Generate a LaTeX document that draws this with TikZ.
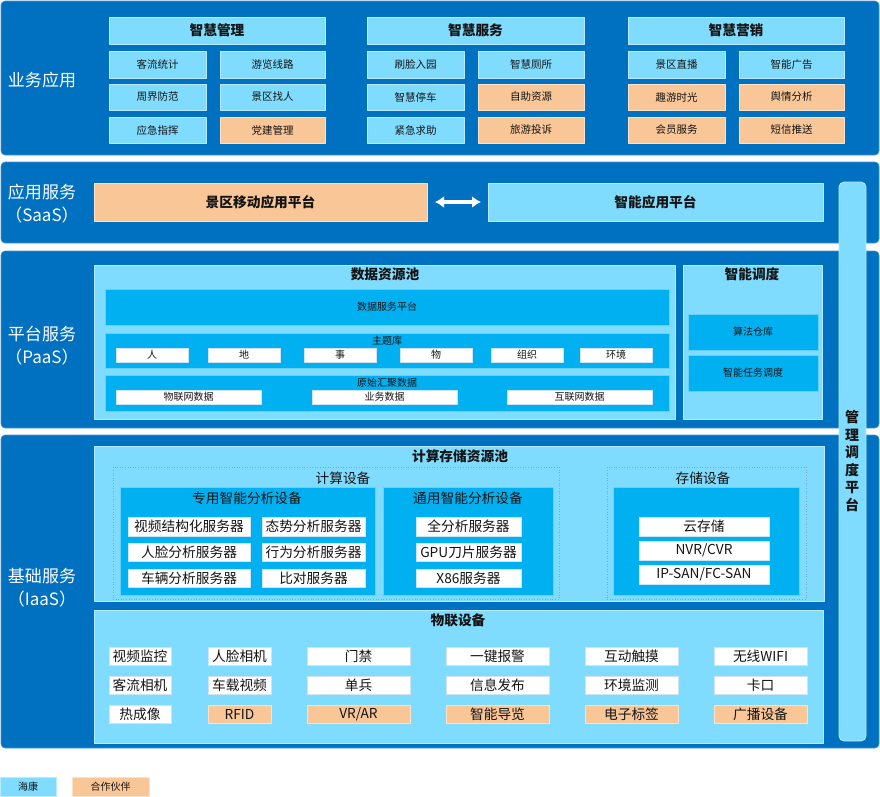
\documentclass[tikz,border=0pt]{standalone}
\usepackage{fontspec}
\setmainfont{Noto Sans CJK SC}
\usetikzlibrary{arrows.meta}
\definecolor{layerblue}{HTML}{0070C0}
\definecolor{layeredge}{HTML}{4A97D4}
\definecolor{paleblue}{HTML}{80DCFE}
\definecolor{paleedge}{HTML}{B8EBFF}
\definecolor{midblue}{HTML}{00B0F0}
\definecolor{midedge}{HTML}{66D0F6}
\definecolor{peach}{HTML}{F8C697}
\definecolor{peachedge}{HTML}{FCE2C8}
\definecolor{whiteedge}{HTML}{D0E4F0}
\definecolor{dotedge}{HTML}{7FA6C4}
\definecolor{ink}{HTML}{141414}
\newcommand{\fs}[1]{\fontsize{#1}{#1}\selectfont}
% tile: name, style, x1, y1, x2, y2, text (pixel coordinates)
\newcommand{\tile}[7]{%
  \node[#2, minimum width={(#5-#3)*1pt}, minimum height={(#6-#4)*1pt}]
    (#1) at ({(#3+#5)/2},{(#4+#6)/2}) {#7};
}

\begin{document}
\begin{tikzpicture}[
  x=1pt,
  y=-1pt,
  line join=round,
  every node/.style={inner sep=0pt, outer sep=0pt, text=ink},
  layer/.style={fill=layerblue, draw=layeredge, line width=0.6pt, rounded corners=4pt},
  pale/.style={fill=paleblue, draw=paleedge, line width=0.8pt},
  peachbox/.style={fill=peach, draw=peachedge, line width=0.8pt},
  midbox/.style={fill=midblue, draw=midedge, line width=0.8pt},
  whitebox/.style={fill=white, draw=whiteedge, line width=0.8pt},
  dotbox/.style={draw=dotedge, dotted, line width=0.6pt},
  lbl/.style={text=white, align=center, font=\fontsize{17}{23}\selectfont},
  hdr/.style={font=\bfseries\fs{13.7}},
  item/.style={font=\fs{10.5}},
  small/.style={font=\fs{10}},
  dev/.style={font=\fs{13.7}}
]
  \useasboundingbox (0,0) rectangle (880,796);
  \fill[white] (0,0) rectangle (880,796);

  % ---- business applications
  \tile{bizL}{layer}{1}{1}{879}{155}{}
  \node[lbl] (bizT) at (42,80) {业务应用};

  \tile{mgmtH}{pale,hdr}{109}{17}{325}{44}{智慧管理}
  \tile{mgmt1}{pale,item}{109}{51}{206}{78}{客流统计}
  \tile{mgmt2}{pale,item}{220}{51}{325}{78}{游览线路}
  \tile{mgmt3}{pale,item}{109}{84}{206}{110}{周界防范}
  \tile{mgmt4}{pale,item}{220}{84}{325}{110}{景区找人}
  \tile{mgmt5}{pale,item}{109}{117}{206}{143}{应急指挥}
  \tile{mgmt6}{peachbox,item}{220}{117}{325}{143}{党建管理}

  \tile{servH}{pale,hdr}{367}{17}{584}{44}{智慧服务}
  \tile{serv1}{pale,item}{367}{51}{464}{78}{刷脸入园}
  \tile{serv2}{pale,item}{478}{51}{584}{78}{智慧厕所}
  \tile{serv3}{pale,item}{367}{84}{464}{110}{智慧停车}
  \tile{serv4}{peachbox,item}{478}{84}{584}{110}{自助资源}
  \tile{serv5}{pale,item}{367}{117}{464}{143}{紧急求助}
  \tile{serv6}{peachbox,item}{478}{117}{584}{143}{旅游投诉}

  \tile{mktH}{pale,hdr}{628}{17}{844}{44}{智慧营销}
  \tile{mkt1}{pale,item}{628}{51}{725}{78}{景区直播}
  \tile{mkt2}{pale,item}{739}{51}{844}{78}{智能广告}
  \tile{mkt3}{peachbox,item}{628}{84}{725}{110}{趣游时光}
  \tile{mkt4}{peachbox,item}{739}{84}{844}{110}{舆情分析}
  \tile{mkt5}{peachbox,item}{628}{117}{725}{143}{会员服务}
  \tile{mkt6}{peachbox,item}{739}{117}{844}{143}{短信推送}

  % ---- SaaS
  \tile{saasL}{layer}{1}{162}{879}{243}{}
  \node[lbl] (saasT) at (42,204) {应用服务\\（SaaS）};
  \tile{mobile}{peachbox,hdr}{94}{183}{427}{221}{景区移动应用平台}
  \tile{smart}{pale,hdr}{488}{183}{823}{221}{智能应用平台}
  \draw[white, line width=3.6pt, {Latex[length=9pt,width=12pt]}-{Latex[length=9pt,width=12pt]},
    shorten <=8pt, shorten >=7pt] (mobile.east) -- (smart.west);

  % ---- PaaS
  \tile{paasL}{layer}{1}{251}{879}{428}{}
  \node[lbl] (paasT) at (42,346) {平台服务\\（PaaS）};

  \tile{pool}{pale}{94}{265}{675}{419}{}
  \node[hdr] (poolT) at (385,274) {数据资源池};
  \tile{dsp}{midbox,small}{105}{289}{669}{325}{数据服务平台}
  \tile{topic}{midbox}{105}{333}{669}{368}{}
  \node[small] (topicT) at (387,341) {主题库};
  \tile{tp1}{whitebox,small}{116}{348}{188}{362}{人}
  \tile{tp2}{whitebox,small}{208}{348}{280}{362}{地}
  \tile{tp3}{whitebox,small}{304}{348}{376}{362}{事}
  \tile{tp4}{whitebox,small}{400}{348}{472}{362}{物}
  \tile{tp5}{whitebox,small}{491}{348}{563}{362}{组织}
  \tile{tp6}{whitebox,small}{580}{348}{652}{362}{环境}
  \tile{raw}{midbox}{105}{375}{669}{411}{}
  \node[small] (rawT) at (387,383) {原始汇聚数据};
  \tile{raw1}{whitebox,small}{116}{390}{261}{404}{物联网数据}
  \tile{raw2}{whitebox,small}{312}{390}{457}{404}{业务数据}
  \tile{raw3}{whitebox,small}{507}{390}{652}{404}{互联网数据}

  \tile{sched}{pale}{683}{265}{822}{419}{}
  \node[hdr] (schedT) at (752,274) {智能调度};
  \tile{algo}{midbox,small}{688}{314}{818}{350}{算法仓库}
  \tile{task}{midbox,small}{688}{355}{818}{391}{智能任务调度}

  % ---- IaaS
  \tile{iaasL}{layer}{1}{435}{879}{748}{}
  \node[lbl] (iaasT) at (42,588) {基础服务\\（IaaS）};

  \tile{cpool}{pale}{94}{446}{824}{601}{}
  \node[hdr] (cpoolT) at (460,456) {计算存储资源池};
  \tile{comp}{dotbox}{113}{467}{559}{599}{}
  \node[dev] (compT) at (343,478) {计算设备};
  \tile{spec}{midbox}{120}{487}{375}{595}{}
  \node[dev] (specT) at (247,498) {专用智能分析设备};
  \tile{sp1}{whitebox,dev}{128}{517}{250}{536}{视频结构化服务器}
  \tile{sp2}{whitebox,dev}{262}{517}{365}{536}{态势分析服务器}
  \tile{sp3}{whitebox,dev}{128}{543}{250}{561}{人脸分析服务器}
  \tile{sp4}{whitebox,dev}{262}{543}{365}{561}{行为分析服务器}
  \tile{sp5}{whitebox,dev}{128}{569}{250}{587}{车辆分析服务器}
  \tile{sp6}{whitebox,dev}{262}{569}{365}{587}{比对服务器}
  \tile{gen}{midbox}{383}{487}{553}{595}{}
  \node[dev] (genT) at (468,498) {通用智能分析设备};
  \tile{gn1}{whitebox,dev}{416}{517}{521}{536}{全分析服务器}
  \tile{gn2}{whitebox,dev}{416}{543}{521}{561}{GPU刀片服务器}
  \tile{gn3}{whitebox,dev}{416}{569}{521}{587}{X86服务器}

  \tile{stor}{dotbox}{607}{467}{806}{599}{}
  \node[dev] (storT) at (703,478) {存储设备};
  \tile{storin}{midbox}{613}{487}{799}{595}{}
  \tile{st1}{whitebox,dev}{639}{517}{769}{536}{云存储}
  \tile{st2}{whitebox,dev}{639}{541}{769}{560}{NVR/CVR}
  \tile{st3}{whitebox,dev}{639}{565}{769}{584}{IP-SAN/FC-SAN}

  \tile{iot}{pale}{94}{610}{823}{743}{}
  \node[hdr] (iotT) at (458,620) {物联设备};
  \tile{io1}{whitebox,dev}{109}{647}{171}{665}{视频监控}
  \tile{io2}{whitebox,dev}{208}{647}{271}{665}{人脸相机}
  \tile{io3}{whitebox,dev}{307}{647}{410}{665}{门禁}
  \tile{io4}{whitebox,dev}{446}{647}{549}{665}{一键报警}
  \tile{io5}{whitebox,dev}{585}{647}{678}{665}{互动触摸}
  \tile{io6}{whitebox,dev}{714}{647}{807}{665}{无线WIFI}
  \tile{io7}{whitebox,dev}{109}{676}{171}{694}{客流相机}
  \tile{io8}{whitebox,dev}{208}{676}{271}{694}{车载视频}
  \tile{io9}{whitebox,dev}{307}{676}{410}{694}{单兵}
  \tile{io10}{whitebox,dev}{446}{676}{549}{694}{信息发布}
  \tile{io11}{whitebox,dev}{585}{676}{678}{694}{环境监测}
  \tile{io12}{whitebox,dev}{714}{676}{807}{694}{卡口}
  \tile{io13}{whitebox,dev}{109}{705}{171}{723}{热成像}
  \tile{io14}{peachbox,dev}{208}{705}{271}{723}{RFID}
  \tile{io15}{peachbox,dev}{307}{705}{410}{723}{VR/AR}
  \tile{io16}{peachbox,dev}{446}{705}{549}{723}{智能导览}
  \tile{io17}{peachbox,dev}{585}{705}{678}{723}{电子标签}
  \tile{io18}{peachbox,dev}{714}{705}{807}{723}{广播设备}

  % ---- management bar across the layers
  \tile{bar}{pale,rounded corners=5pt}{839}{182}{866}{741}{}
  \node[hdr, align=center, font=\bfseries\fontsize{14}{17.5}\selectfont] (barT) at (852,461)
    {管\\理\\调\\度\\平\\台};

  % ---- legend
  \tile{keyA}{pale,small}{0}{777}{56}{796}{海康}
  \tile{keyB}{peachbox,small}{72}{777}{149}{796}{合作伙伴}
\end{tikzpicture}
\end{document}
